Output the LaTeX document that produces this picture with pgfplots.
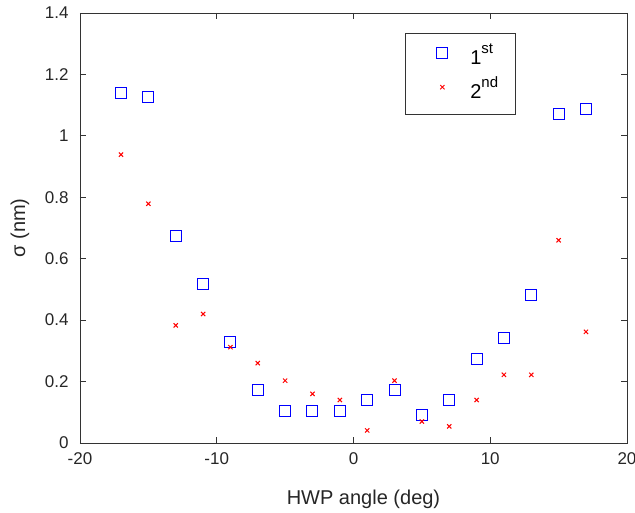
\documentclass[border=0pt]{standalone}
\usepackage{pgfplots}
\pgfplotsset{compat=1.18}
\usepackage{fontspec}
\setmainfont{Liberation Sans}
\newcommand{\sups}[1]{\raisebox{0.55em}{\fontsize{15}{15}\selectfont #1}}
\begin{document}
\begin{tikzpicture}
\begin{axis}[
  scale only axis,
  width=547pt, height=430pt,
  xmin=-20, xmax=20, ymin=0, ymax=1.4,
  xtick={-20,-10,0,10,20},
  ytick={0,0.2,0.4,0.6,0.8,1,1.2,1.4},
  yticklabel style={/pgf/number format/fixed, xshift=-8pt},
  xticklabel style={yshift=-16pt, anchor=center},
  /pgf/number format/assume math mode=true,
  tick align=inside,
  major tick length=6pt,
  tick style={black!80, line width=0.8pt},
  axis line style={line width=0.9pt, black!80},
  ticklabel style={font=\fontsize{17}{19}\selectfont, text=black!85},
  label style={font=\fontsize{20}{22}\selectfont, text=black!85},
  xlabel={HWP angle (deg)},
  ylabel={σ (nm)},
  xlabel style={at={(axis description cs:0.5,0)}, anchor=center, yshift=-56pt, xshift=10pt},
  ylabel style={at={(axis description cs:0,0.5)}, anchor=center, yshift=60pt},
  legend style={at={(0.594,0.953)}, anchor=north west, draw=black!80, line width=0.9pt,
    font=\fontsize{20}{22}\selectfont, row sep=18pt, column sep=0pt, inner xsep=14pt, inner ysep=14pt,
    legend cell align=left, nodes={inner xsep=3pt, inner ysep=0pt, text height=14pt, text depth=2pt}},
  legend image code/.code={\path[draw=none,fill=none] (0pt,0pt) -- (48pt,0pt); \draw[#1] plot coordinates {(23pt,5pt)};},
]
\addplot[only marks, mark=square, mark size=5.5pt, mark options={draw=blue, line width=1pt}] coordinates {
(-17,1.14) (-15,1.128) (-13,0.673) (-11,0.519) (-9,0.329) (-7,0.173) (-5,0.103) (-3,0.103) (-1,0.103)
(1,0.14) (3,0.173) (5,0.092) (7,0.14) (9,0.273) (11,0.341) (13,0.481) (15,1.071) (17,1.087)
};
\addlegendentry{1\sups{st}}
\addplot[only marks, mark=x, mark size=3pt, mark options={draw=red, line width=1pt}] coordinates {
(-17,0.939) (-15,0.779) (-13,0.383) (-11,0.42) (-9,0.312) (-7,0.26) (-5,0.203) (-3,0.16) (-1,0.14)
(1,0.041) (3,0.203) (5,0.07) (7,0.054) (9,0.14) (11,0.222) (13,0.222) (15,0.66) (17,0.362)
};
\addlegendentry{2\sups{nd}}
\end{axis}
\pgfresetboundingbox
\path (-80pt,-70pt) rectangle (555pt,443pt);
\end{tikzpicture}
\end{document}
